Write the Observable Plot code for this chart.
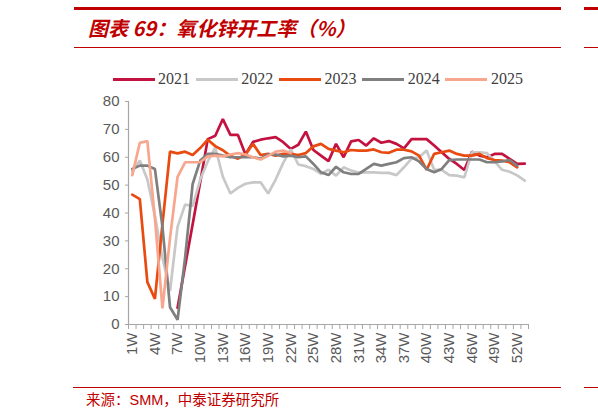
<!DOCTYPE html>
<html>
<head>
<meta charset="utf-8">
<script src="https://cdn.jsdelivr.net/npm/d3@7"></script>
<script src="https://cdn.jsdelivr.net/npm/@observablehq/plot@0.6"></script>
<style>
  body { margin: 0; background: #fff; }
  #wrap { position: relative; width: 598px; height: 419px; overflow: hidden; font-family: "Liberation Sans", Arial, sans-serif; }
  #chart { position: absolute; left: 0; top: 0; }
  .hr { position: absolute; background: #C00000; }
  #title { position: absolute; left: 88px; top: 16px; font: italic bold 20px "Noto Sans CJK SC", sans-serif; color: #C00000; line-height: 24px; white-space: nowrap; }
  #legend { position: absolute; left: 0; top: 0; }
  .sw { position: absolute; height: 3px; width: 42px; }
  .lt { position: absolute; font: 16px "Liberation Serif", "Times New Roman", serif; color: #404040; line-height: 18px; }
  #source { position: absolute; left: 86px; top: 390px; font: 14.5px "Noto Sans CJK SC", sans-serif; color: #C00000; line-height: 18px; white-space: nowrap; }
</style>
</head>
<body>
<div id="wrap">
  <div class="hr" style="left:74px;top:7px;width:487px;height:3px"></div>
  <div class="hr" style="left:584px;top:7px;width:14px;height:3px"></div>
  <div id="title">图表 69：氧化锌开工率（%）</div>
  <div class="hr" style="left:74px;top:47px;width:487px;height:1px"></div>
  <div class="hr" style="left:584px;top:47px;width:14px;height:1px"></div>
  <div id="legend"></div>
  <div id="chart"></div>
  <div class="hr" style="left:73px;top:387px;width:488px;height:1px"></div>
  <div class="hr" style="left:584px;top:387px;width:14px;height:1px"></div>
  <div id="source">来源：<span style="font-family:'Liberation Sans',Arial,sans-serif">SMM</span>，中泰证券研究所</div>
</div>
<script>
// weekly utilisation rate, week 1 .. 53 (null = no data)
const years = ["2021", "2022", "2023", "2024", "2025"];
const colors = ["#C3123F", "#C8C8C8", "#E84A10", "#7F7F7F", "#F8A68E"];

const v2021 = [null, null, null, null, null, null, 6, 21, 36, 51, 66.5, 67.7, 73.7, 68, 68, 61, 65.5, 66.3, 66.8, 67.2,
  65.4, 63, 64.5, 69.2, 62.6, 60.6, 58.6, 64.8, 60, 65.7, 66.2, 64.2, 66.8, 65.2, 65.8, 64.8, 63.2, 66.5, 66.5, 66.5,
  64.2, 61.8, 59.4, 57.6, 55.4, 62, 60.6, 60, 61.2, 61.2, 59.4, 57.6, 57.7];
const v2022 = [55, 58.8, 52, 39, 24, 12, 35, 43, 42.5, 52, 58.5, 63.5, 53, 47, 49, 50.5, 51, 51, 47, 52,
  58, 62.8, 57.4, 56.8, 55.8, 54, 55.5, 53.4, 56.4, 55.2, 54.5, 54.6, 54.6, 54.4, 54.4, 53.6, 56.4, 59.5, 60, 62.4,
  55.5, 55.5, 53.6, 53.4, 52.8, 61.8, 61.8, 61.5, 58.5, 55.5, 54.8, 53.5, 51.6];
const v2023 = [46.6, 45, 15.2, 9.2, 36, 62, 61.4, 62, 60.8, 63.3, 66.3, 64, 62.5, 60.5, 59.5, 61, 64.8, 60.8, 61.2, 60.6,
  61.2, 61.2, 60.8, 61.5, 63.9, 64.8, 63, 62.4, 61.8, 62.6, 62.4, 62.4, 62.8, 61.8, 61.6, 62.7, 62.7, 62.1, 60.6, 55.5,
  61.2, 61.8, 62.4, 61.2, 60.6, 60.6, 61.2, 59.7, 59, 58.8, 58.2, 56.4];
const v2024 = [55.8, 57, 57, 55.8, 35, 6.2, 1.7, 24, 50.4, 58.8, 61.2, 61.2, 60.6, 60, 60, 60, 60, 59.5, 61, 61,
  60.3, 60.6, 60, 60.3, 57.6, 54.6, 53.6, 56.6, 54.6, 54, 54, 55.8, 57.6, 57, 57.6, 58.2, 59.7, 60, 58.5, 55.8,
  54.6, 55.8, 59, 59.2, 59.2, 59.2, 59.2, 58.2, 58.2, 58.5, 59, 57];
const v2025 = [53.6, 65.2, 65.8, 38, 5.8, 31, 53, 58.2, 58.2, 58.2, 60.3, 60.6, 60.3, 61, 61.5, 61, 60, 59.2, 60.5, 62,
  62.4, 61.5];

const yTicks = [0, 10, 20, 30, 40, 50, 60, 70, 80];
const xLabelWeeks = [1, 4, 7, 10, 13, 16, 19, 22, 25, 28, 31, 34, 37, 40, 43, 46, 49, 52];
const nWeeks = 53;

const seriesValues = [v2021, v2022, v2023, v2024, v2025];
const rows = seriesValues.flatMap((vals, k) =>
  vals.map((v, i) => ({year: years[k], week: i + 1, value: v})).filter(d => d.value != null));

const axisGray = "#A6A6A6";
const labelGray = "#595959";

const chart = Plot.plot({
  width: 598,
  height: 419,
  marginTop: 101,
  marginBottom: 95,
  marginLeft: 128,
  marginRight: 70,
  style: {fontFamily: "'Liberation Sans', Arial, sans-serif", fontSize: "15px", background: "transparent"},
  x: {domain: [0.5, nWeeks + 0.5], label: null},
  y: {domain: [0, 80], label: null},
  color: {domain: years, range: colors},
  marks: [
    Plot.axisY({ticks: yTicks, tickSize: 3, tickPadding: 6, stroke: axisGray, fill: labelGray, label: null}),
    Plot.axisX({ticks: d3.range(0.5, nWeeks + 1, 1), tickSize: 5, tickFormat: () => "", stroke: axisGray, label: null}),
    Plot.axisX({ticks: xLabelWeeks, tickSize: 0, tickPadding: 8, tickRotate: -90, tickFormat: d => d + "W", fill: labelGray, label: null}),
    Plot.ruleX([0.5], {stroke: axisGray, strokeWidth: 1.2}),
    Plot.ruleY([0], {stroke: axisGray, strokeWidth: 1.2}),
    Plot.line(rows, {x: "week", y: "value", z: "year", stroke: "year", strokeWidth: 2.7, strokeLinejoin: "miter"})
  ]
});
document.getElementById("chart").append(chart);

// legend
const legend = document.getElementById("legend");
years.forEach((y, i) => {
  const x0 = 112.6 + i * 83.2;
  const sw = document.createElement("div");
  sw.className = "sw";
  sw.style.left = x0 + "px";
  sw.style.top = "78px";
  sw.style.background = colors[i];
  legend.append(sw);
  const t = document.createElement("div");
  t.className = "lt";
  t.style.left = (x0 + 45.5) + "px";
  t.style.top = "70px";
  t.textContent = y;
  legend.append(t);
});
</script>
</body>
</html>
